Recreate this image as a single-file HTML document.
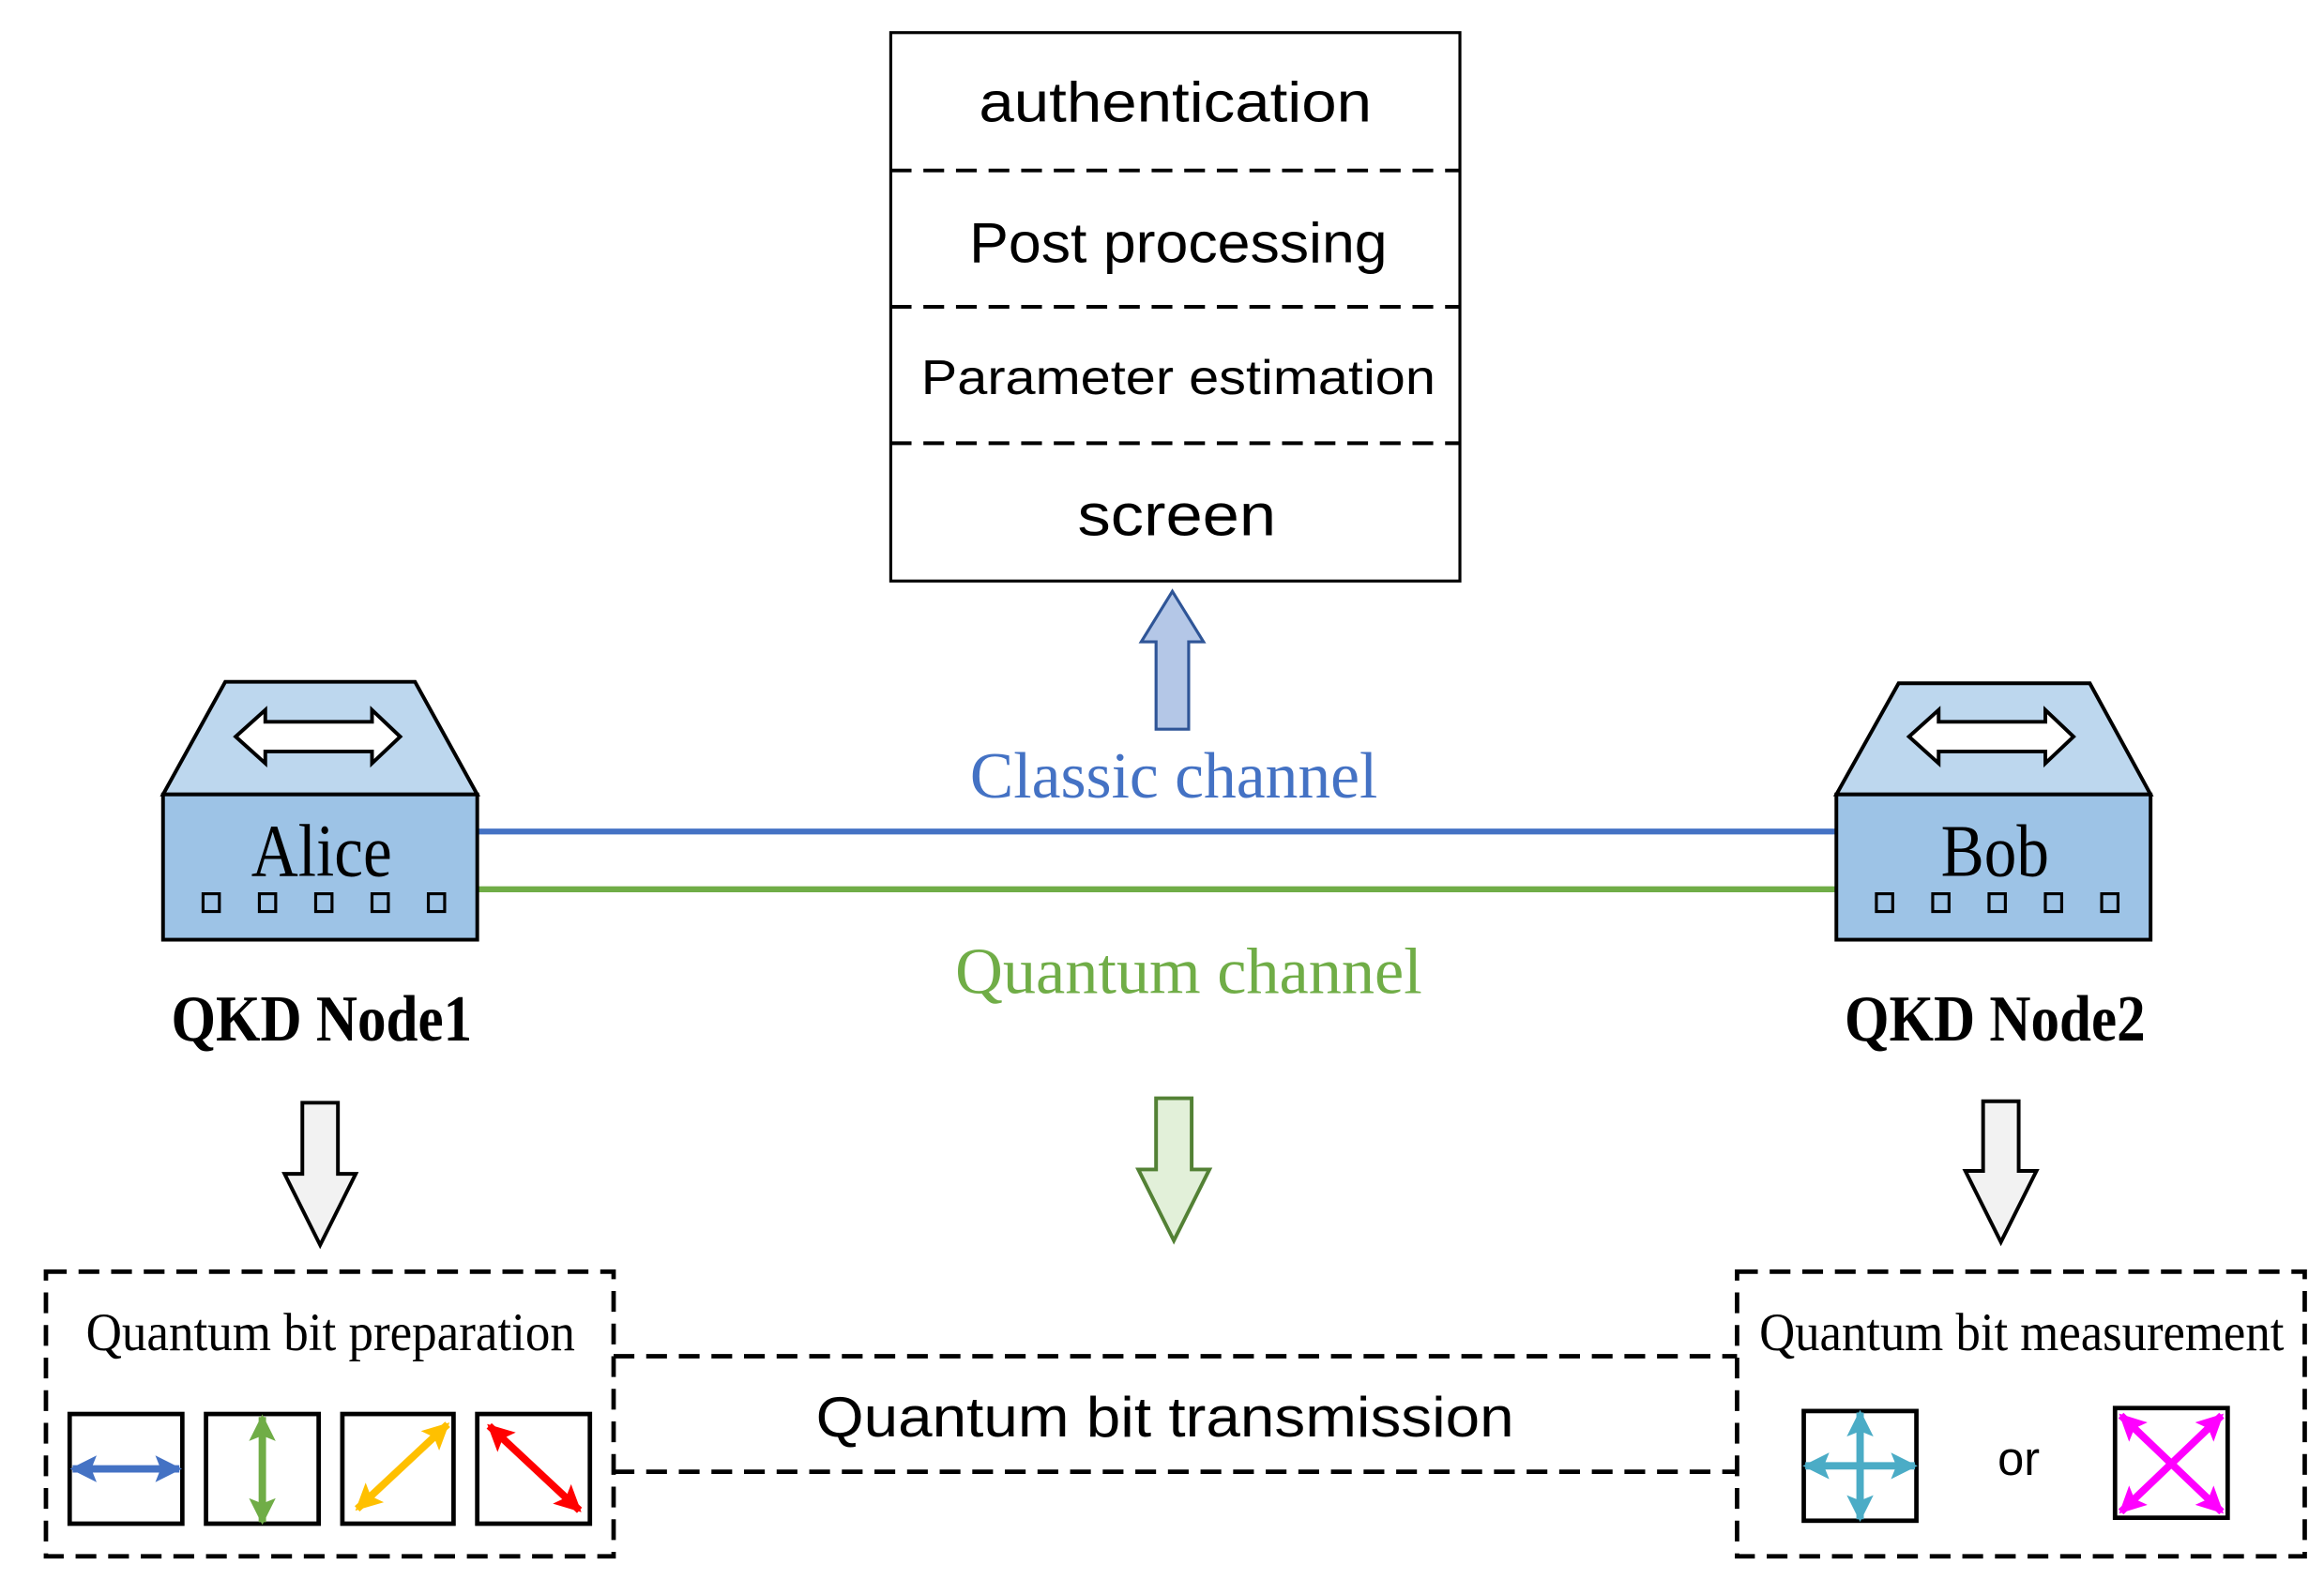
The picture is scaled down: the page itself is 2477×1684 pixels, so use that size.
<!DOCTYPE html>
<html><head><meta charset="utf-8"><style>html,body{margin:0;padding:0;background:#fff}svg{display:block}</style></head>
<body>
<svg width="2477" height="1684" viewBox="0 0 1568 1066" preserveAspectRatio="none" xmlns="http://www.w3.org/2000/svg">
<defs>
<marker id="mb" viewBox="0 0 10 10" refX="9" refY="5" markerWidth="3.6" markerHeight="4.4" orient="auto-start-reverse"><path d="M0,0 L10,5 L0,10 L2,5 z" fill="#4472c4"/></marker>
<marker id="mg" viewBox="0 0 10 10" refX="9" refY="5" markerWidth="3.6" markerHeight="4.4" orient="auto-start-reverse"><path d="M0,0 L10,5 L0,10 L2,5 z" fill="#70ad47"/></marker>
<marker id="mo" viewBox="0 0 10 10" refX="9" refY="5" markerWidth="3.6" markerHeight="4.4" orient="auto-start-reverse"><path d="M0,0 L10,5 L0,10 L2,5 z" fill="#ffc000"/></marker>
<marker id="mr" viewBox="0 0 10 10" refX="9" refY="5" markerWidth="3.6" markerHeight="4.4" orient="auto-start-reverse"><path d="M0,0 L10,5 L0,10 L2,5 z" fill="#ff0000"/></marker>
<marker id="mc" viewBox="0 0 10 10" refX="9" refY="5" markerWidth="3.6" markerHeight="4.4" orient="auto-start-reverse"><path d="M0,0 L10,5 L0,10 L2,5 z" fill="#4bacc6"/></marker>
<marker id="mm" viewBox="0 0 10 10" refX="9" refY="5" markerWidth="3.6" markerHeight="4.4" orient="auto-start-reverse"><path d="M0,0 L10,5 L0,10 L2,5 z" fill="#ff00ff"/></marker>
</defs>
<g font-family="Liberation Sans, sans-serif" text-anchor="middle" fill="#000">
<rect x="601" y="22" width="384" height="370" fill="#fff" stroke="#000" stroke-width="2"/>
<g stroke="#000" stroke-width="2.5" stroke-dasharray="14,8">
<line x1="601" y1="115" x2="985" y2="115"/><line x1="601" y1="207" x2="985" y2="207"/><line x1="601" y1="299" x2="985" y2="299"/>
</g>
<text x="793" y="82" font-size="38" textLength="265" lengthAdjust="spacingAndGlyphs">authentication</text>
<text x="795" y="177" font-size="38" textLength="282" lengthAdjust="spacingAndGlyphs">Post processing</text>
<text x="795" y="266" font-size="33" textLength="347" lengthAdjust="spacingAndGlyphs">Parameter estimation</text>
<text x="794" y="361" font-size="40" textLength="134" lengthAdjust="spacingAndGlyphs">screen</text>
</g>
<path d="M791,399 L812,433 L802,433 L802,492 L780,492 L780,433 L770,433 Z" fill="#b4c7e7" stroke="#2f5597" stroke-width="2"/>
<g font-family="Liberation Serif, serif" text-anchor="middle">
<text x="792" y="538" font-size="44" fill="#4472c4" textLength="275" lengthAdjust="spacingAndGlyphs">Classic channel</text>
<text x="802" y="670" font-size="44" fill="#70ad47" textLength="315" lengthAdjust="spacingAndGlyphs">Quantum channel</text>
</g>
<line x1="322" y1="561" x2="1240" y2="561" stroke="#4472c4" stroke-width="4"/>
<line x1="322" y1="600" x2="1240" y2="600" stroke="#70ad47" stroke-width="4"/>
<g stroke="#000" stroke-width="2.5">
<path d="M152,460 L280,460 L322,536 L110,536 Z" fill="#bdd7ee"/>
<rect x="110" y="536" width="212" height="98" fill="#9dc3e6"/>
<path d="M159,497 L179,479 L179,487 L251,487 L251,479 L270,497 L251,515 L251,507 L179,507 L179,515 Z" fill="#fff"/>
<g fill="none" stroke-width="2"><rect x="137" y="603" width="11" height="12"/><rect x="175" y="603" width="11" height="12"/><rect x="213" y="603" width="11" height="12"/><rect x="251" y="603" width="11" height="12"/><rect x="289" y="603" width="11" height="12"/></g>
</g>
<g stroke="#000" stroke-width="2.5">
<path d="M1281,461 L1410,461 L1451,536 L1239,536 Z" fill="#bdd7ee"/>
<rect x="1239" y="536" width="212" height="98" fill="#9dc3e6"/>
<path d="M1288,497 L1308,479 L1308,487 L1380,487 L1380,479 L1399,497 L1380,515 L1380,507 L1308,507 L1308,515 Z" fill="#fff"/>
<g fill="none" stroke-width="2"><rect x="1266" y="603" width="11" height="12"/><rect x="1304" y="603" width="11" height="12"/><rect x="1342" y="603" width="11" height="12"/><rect x="1380" y="603" width="11" height="12"/><rect x="1418" y="603" width="11" height="12"/></g>
</g>
<g font-family="Liberation Serif, serif" text-anchor="middle" fill="#000">
<text x="217" y="591" font-size="50" textLength="95" lengthAdjust="spacingAndGlyphs">Alice</text>
<text x="1346" y="591" font-size="50" textLength="73" lengthAdjust="spacingAndGlyphs">Bob</text>
<text x="217" y="702" font-size="44" font-weight="bold" textLength="203" lengthAdjust="spacingAndGlyphs">QKD Node1</text>
<text x="1346" y="702" font-size="44" font-weight="bold" textLength="203" lengthAdjust="spacingAndGlyphs">QKD Node2</text>
<text x="223" y="911" font-size="36" textLength="330" lengthAdjust="spacingAndGlyphs">Quantum bit preparation</text>
<text x="1364" y="911" font-size="36" textLength="354" lengthAdjust="spacingAndGlyphs">Quantum bit measurement</text>
</g>
<path d="M204,744 L228,744 L228,792 L240,792 L216,840 L192,792 L204,792 Z" fill="#f2f2f2" stroke="#000" stroke-width="2.5"/>
<path d="M780,741 L804,741 L804,789 L816,789 L792,837 L768,789 L780,789 Z" fill="#e2f0d9" stroke="#538135" stroke-width="2.5"/>
<path d="M1338,743 L1362,743 L1362,790 L1374,790 L1350,838 L1326,790 L1338,790 Z" fill="#f2f2f2" stroke="#000" stroke-width="2.5"/>
<g fill="none" stroke="#000" stroke-width="3" stroke-dasharray="14,8">
<rect x="31" y="858" width="383" height="192"/>
<rect x="1172" y="858" width="383" height="192"/>
<line x1="414" y1="915" x2="1172" y2="915"/>
<line x1="414" y1="993" x2="1172" y2="993"/>
</g>
<text x="786" y="969" font-family="Liberation Sans, sans-serif" font-size="38" text-anchor="middle" textLength="471" lengthAdjust="spacingAndGlyphs">Quantum bit transmission</text>
<text x="1362" y="995" font-family="Liberation Sans, sans-serif" font-size="32" text-anchor="middle">or</text>
<g fill="#fff" stroke="#000" stroke-width="3">
<rect x="47" y="954" width="76" height="74"/><rect x="139" y="954" width="76" height="74"/><rect x="231" y="954" width="75" height="74"/><rect x="322" y="954" width="76" height="74"/>
<rect x="1217" y="952" width="76" height="74"/><rect x="1427" y="950" width="76" height="74"/>
</g>
<g stroke-width="5" fill="none">
<line x1="49" y1="991" x2="121" y2="991" stroke="#4472c4" marker-start="url(#mb)" marker-end="url(#mb)"/>
<line x1="177" y1="956" x2="177" y2="1027" stroke="#70ad47" marker-start="url(#mg)" marker-end="url(#mg)"/>
<line x1="241" y1="1018" x2="302" y2="961" stroke="#ffc000" marker-start="url(#mo)" marker-end="url(#mo)"/>
<line x1="330" y1="962" x2="391" y2="1019" stroke="#ff0000" marker-start="url(#mr)" marker-end="url(#mr)"/>
<line x1="1218" y1="989" x2="1292" y2="989" stroke="#4bacc6" marker-start="url(#mc)" marker-end="url(#mc)"/>
<line x1="1255" y1="953" x2="1255" y2="1025" stroke="#4bacc6" marker-start="url(#mc)" marker-end="url(#mc)"/>
<line x1="1431" y1="955" x2="1499" y2="1020" stroke="#ff00ff" marker-start="url(#mm)" marker-end="url(#mm)"/>
<line x1="1499" y1="955" x2="1431" y2="1020" stroke="#ff00ff" marker-start="url(#mm)" marker-end="url(#mm)"/>
</g>
</svg>
</body></html>
